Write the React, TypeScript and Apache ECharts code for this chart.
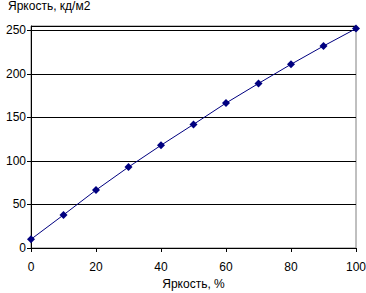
import React, { useEffect, useRef } from "react";
import * as echarts from "echarts";

const brightnessPercent = [0, 10, 20, 30, 40, 50, 60, 70, 80, 90, 100];
const luminance = [10, 38, 66.5, 93, 118, 142, 166.5, 189, 211, 232, 252];
const yTitle = "Яркость, кд/м2";
const xTitle = "Яркость, %";

export default function App() {
  const ref = useRef<HTMLDivElement>(null);
  useEffect(() => {
    document.body.style.margin = "0";
    const chart = echarts.init(ref.current!, null, { renderer: "svg", width: 366, height: 293 });
    const font = "'Liberation Sans', Arial, sans-serif";
    chart.setOption({
      animation: false,
      backgroundColor: "#ffffff",
      title: {
        text: yTitle,
        left: 8,
        top: 0,
        padding: 0,
        textStyle: { fontFamily: font, fontSize: 12, fontWeight: "normal", color: "#000" },
      },
      grid: {
        left: 31,
        right: 10,
        top: 26,
        bottom: 45,
        containLabel: false,
        outerBoundsMode: "none",
        show: true,
        borderColor: "#808080",
        borderWidth: 1,
        backgroundColor: "transparent",
      },
      xAxis: {
        type: "value",
        min: 0,
        max: 100,
        interval: 20,
        name: xTitle,
        nameLocation: "middle",
        nameGap: 29,
        nameTextStyle: { fontFamily: font, fontSize: 12, color: "#000" },
        axisLine: { show: true, lineStyle: { color: "#000", width: 1 } },
        axisTick: { show: true, length: 4, inside: false, lineStyle: { color: "#000" } },
        axisLabel: { fontFamily: font, fontSize: 12, color: "#000", margin: 13 },
        splitLine: { show: false },
      },
      yAxis: {
        type: "value",
        min: 0,
        max: 255,
        interval: 50,
        axisLine: { show: true, lineStyle: { color: "#000", width: 1 } },
        axisTick: { show: true, length: 4, inside: false, lineStyle: { color: "#000" } },
        axisLabel: {
          fontFamily: font,
          fontSize: 12,
          color: "#000",
          margin: 5,
          showMaxLabel: false,
          formatter: (v: number) => (v % 50 === 0 ? String(v) : ""),
        },
        splitLine: { show: true, lineStyle: { color: "#000", width: 1 } },
      },
      series: [
        {
          type: "line",
          data: brightnessPercent.map((x, i) => [x, luminance[i]]),
          symbol: "diamond",
          symbolSize: 8,
          itemStyle: { color: "#000080" },
          lineStyle: { color: "#000080", width: 1 },
        },
      ],
    });
    return () => chart.dispose();
  }, []);
  return (
    <div
      ref={ref}
      style={{ position: "absolute", left: 0, top: 0, width: 366, height: 293 }}
    />
  );
}
